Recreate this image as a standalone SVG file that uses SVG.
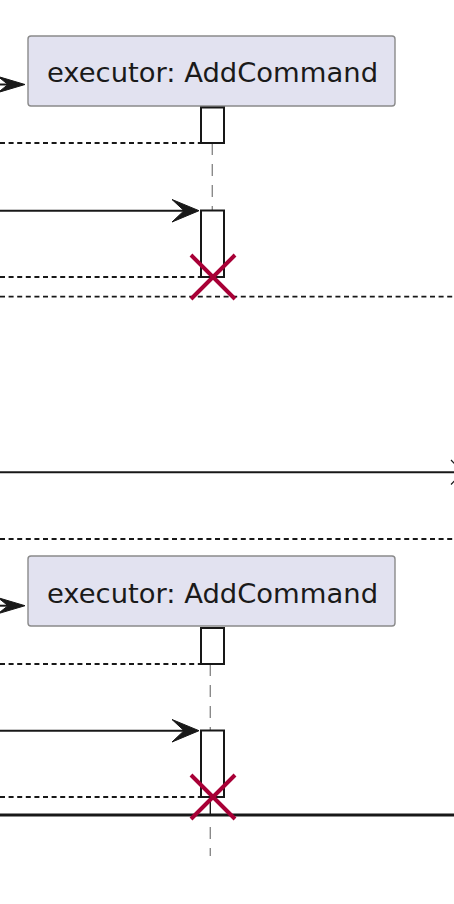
<svg xmlns="http://www.w3.org/2000/svg" width="454" height="904" viewBox="0 0 454 904">
<style>
.part{fill:#E2E2F0;stroke:#8a8a8a;stroke-width:1.4}
.lbl{font-family:"DejaVu Sans",sans-serif;font-size:27.4px;fill:#1a1a1a;text-anchor:middle}
.act{fill:#FFFFFF;stroke:#181818;stroke-width:2}
.life{stroke:#8a8a8a;stroke-width:1.4;stroke-dasharray:12,9;fill:none}
.msg{stroke:#181818;stroke-width:2;fill:none}
.ret{stroke:#181818;stroke-width:1.8;stroke-dasharray:5,3.6;fill:none}
.head{fill:#181818;stroke:#181818;stroke-width:1}
.kill{stroke:#A80036;stroke-width:4;fill:none}
</style>
<rect width="454" height="904" fill="#FFFFFF"/>
<g id="connectors">
  <line class="life" x1="212.3" y1="143" x2="212.3" y2="210"/>
  <line class="life" x1="210.3" y1="664" x2="210.3" y2="731"/>
  <line x1="210.3" y1="797" x2="210.3" y2="815" stroke="#181818" stroke-width="1.4"/>
  <line class="life" x1="210.3" y1="827" x2="210.3" y2="856"/>
  <line class="msg" x1="0" y1="84.5" x2="20" y2="84.5"/>
  <polygon class="head" points="-2,76.5 25,84.5 -2,92.5 8,84.5"/>
  <line class="ret" x1="0" y1="143" x2="201" y2="143"/>
  <line class="msg" x1="0" y1="210.7" x2="194" y2="210.7"/>
  <polygon class="head" points="172,199.5 199,210.7 172,222 184,210.7"/>
  <line class="ret" x1="0" y1="277" x2="201" y2="277"/>
  <line class="ret" x1="0" y1="296.7" x2="454" y2="296.7"/>
  <line class="msg" x1="0" y1="472.3" x2="454" y2="472.3"/>
  <polyline fill="none" stroke="#181818" stroke-width="1.2" points="451,460 463,472.3 451,484.5"/>
  <line class="ret" x1="0" y1="539" x2="454" y2="539"/>
  <line class="msg" x1="0" y1="605.7" x2="20" y2="605.7"/>
  <polygon class="head" points="-2,597.7 25,605.7 -2,613.7 8,605.7"/>
  <line class="ret" x1="0" y1="664" x2="201" y2="664"/>
  <line class="msg" x1="0" y1="730.7" x2="194" y2="730.7"/>
  <polygon class="head" points="172,719.5 199,730.7 172,742 184,730.7"/>
  <line class="ret" x1="0" y1="797" x2="201" y2="797"/>
  <line x1="0" y1="815" x2="454" y2="815" stroke="#181818" stroke-width="3"/>
</g>
<g id="executor1">
  <rect class="part" x="28" y="36" width="367" height="70" rx="3"/>
  <text class="lbl" x="212.5" y="81.7">executor: AddCommand</text>
  <rect class="act" x="201" y="107.5" width="23" height="35.5"/>
  <rect class="act" x="201" y="210.5" width="23" height="66.5"/>
  <path class="kill" d="M191,255 L235,299 M235,255 L191,299"/>
</g>
<g id="executor2">
  <rect class="part" x="28" y="556" width="367" height="70" rx="3"/>
  <text class="lbl" x="212.5" y="603.3">executor: AddCommand</text>
  <rect class="act" x="201" y="628" width="23" height="36"/>
  <rect class="act" x="201" y="730.5" width="23" height="66.5"/>
  <path class="kill" d="M191,775 L235,819 M235,775 L191,819"/>
</g>
</svg>
